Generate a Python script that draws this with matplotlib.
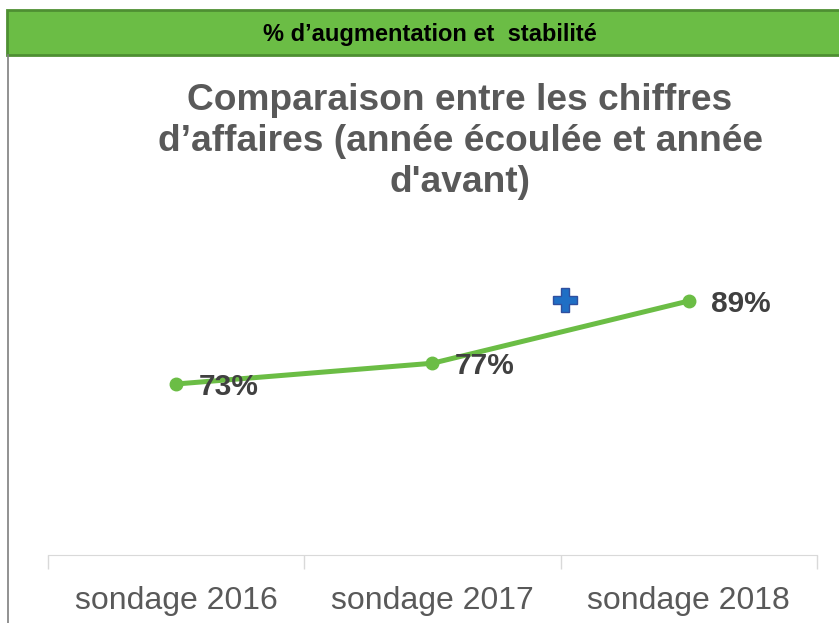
import matplotlib.pyplot as plt
from matplotlib.patches import Rectangle
from matplotlib.lines import Line2D

# Chart data
categories = ['sondage 2016', 'sondage 2017', 'sondage 2018']
pct_values = [73, 77, 89]
value_labels = ['73%', '77%', '89%']
banner_text = '% d\u2019augmentation et  stabilit\u00e9'
chart_title = 'Comparaison entre les chiffres\nd\u2019affaires (ann\u00e9e \u00e9coul\u00e9e et ann\u00e9e\nd\'avant)'

green = '#6BBD45'
dark_text = '#404040'
gray_text = '#595959'

plt.rcParams['font.family'] = ['Liberation Sans', 'DejaVu Sans']

fig = plt.figure(figsize=(8.39, 6.23), dpi=100)
W, H = 839, 623

# banner at top
fig.patches.append(Rectangle((7 / W, 1 - 55 / H), 1.0, 45 / H, transform=fig.transFigure,
                             facecolor=green, edgecolor='#4E8F32', linewidth=2))
fig.text(430 / W, 1 - 34 / H, banner_text, ha='center', va='center',
         fontsize=17, fontweight='bold', color='black')
# left frame line
fig.lines.append(Line2D([8 / W, 8 / W], [0, 1 - 55 / H], transform=fig.transFigure,
                        color='#7F7F7F', linewidth=1.2))

fig.text(460 / W, 1 - 83 / H, chart_title, ha='center', va='top', fontsize=26.7,
         fontweight='bold', color=gray_text, linespacing=1.23)

ax = fig.add_axes([48 / W, 68 / H, (817 - 48) / W, (555 - 220) / H])
x = list(range(len(categories)))
ax.plot(x, pct_values, color=green, linewidth=3.6, marker='o', markersize=9,
        markerfacecolor=green, markeredgecolor=green, solid_capstyle='round')
for xi, v, lab in zip(x, pct_values, value_labels):
    ax.annotate(lab, (xi, v), xytext=(16, -2), textcoords='offset points',
                ha='left', va='center', fontsize=21.5, fontweight='bold', color=dark_text)

# blue "plus" indicator
ax.plot([0.672], [0.761], transform=ax.transAxes, marker='P', markersize=17,
        color='#1F6FC5', markeredgecolor='#2F4F9F', markeredgewidth=1, clip_on=False)

ax.set_xlim(-0.5, 2.5)
ax.set_ylim(40.05, 104.6)
ax.set_xticks(x)
ax.set_xticklabels(categories, fontsize=23, color=gray_text)
ax.tick_params(axis='x', which='major', length=0, pad=22)
ax.set_xticks([-0.5, 0.5, 1.5, 2.5], minor=True)
ax.tick_params(axis='x', which='minor', length=10, color='#D9D9D9', width=1)
ax.set_yticks([])
for s in ['top', 'right', 'left']:
    ax.spines[s].set_visible(False)
ax.spines['bottom'].set_color('#D9D9D9')
ax.patch.set_alpha(0)

fig.savefig('out.png', dpi=100)
